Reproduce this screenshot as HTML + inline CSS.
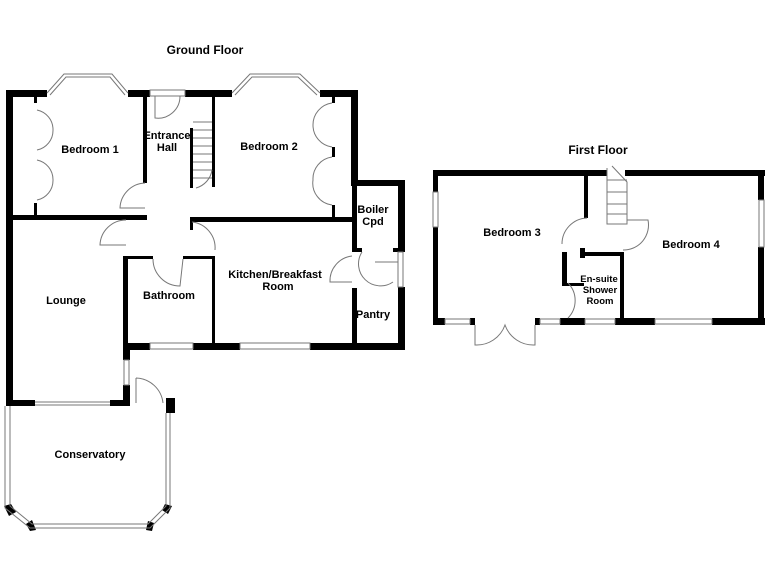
<!DOCTYPE html>
<html><head><style>body{margin:0;background:#fff}svg{display:block}text{font-family:"Liberation Sans",Arial,sans-serif;font-weight:bold;fill:#000}</style></head><body>
<svg width="768" height="576" viewBox="0 0 768 576" xmlns="http://www.w3.org/2000/svg">
<g fill="#000">
<rect x="6" y="90" width="41" height="7"/>
<rect x="128" y="90" width="22" height="7"/>
<rect x="185" y="90" width="47" height="7"/>
<rect x="320" y="90" width="38" height="7"/>
<rect x="6" y="90" width="7" height="316"/>
<rect x="351" y="90" width="7" height="96"/>
<rect x="351" y="180" width="54" height="6"/>
<rect x="398" y="180" width="7" height="72"/>
<rect x="398" y="287" width="7" height="63"/>
<rect x="123" y="343" width="27" height="7"/>
<rect x="193" y="343" width="47" height="7"/>
<rect x="310" y="343" width="95" height="7"/>
<rect x="123" y="343" width="7" height="17"/>
<rect x="123" y="385" width="7" height="21"/>
<rect x="6" y="400" width="29" height="6"/>
<rect x="110" y="400" width="20" height="6"/>
<rect x="166" y="398" width="9" height="15"/>
<polygon points="4,506 11,504 16,512 9,516"/>
<polygon points="26,524 32,520 36,530 30,531"/>
<polygon points="148,521 154,523 152,531 146,530"/>
<polygon points="165,504 172,506 168,514 162,510"/>
<rect x="143" y="97" width="4" height="86"/>
<rect x="6" y="215" width="141" height="5"/>
<rect x="190" y="128" width="3" height="60"/>
<rect x="212" y="97" width="3" height="90"/>
<rect x="190" y="217" width="163" height="5"/>
<rect x="190" y="217" width="3" height="13"/>
<rect x="123" y="256" width="30" height="3"/>
<rect x="183" y="256" width="32" height="3"/>
<rect x="123" y="256" width="5" height="94"/>
<rect x="212" y="256" width="3" height="90"/>
<rect x="352" y="183" width="5" height="67"/>
<rect x="352" y="288" width="5" height="58"/>
<rect x="352" y="248" width="10" height="4"/>
<rect x="393" y="248" width="12" height="4"/>
<rect x="34" y="97" width="3" height="6"/><rect x="34" y="203" width="3" height="15"/>
<rect x="332" y="97" width="3" height="6"/><rect x="332" y="147" width="3" height="10"/><rect x="332" y="205" width="3" height="12"/>
<rect x="433" y="170" width="174" height="6"/>
<rect x="625" y="170" width="140" height="6"/>
<rect x="433" y="170" width="5" height="22"/>
<rect x="433" y="227" width="5" height="98"/>
<rect x="758" y="170" width="6" height="30"/>
<rect x="758" y="247" width="6" height="78"/>
<rect x="433" y="318" width="12" height="7"/>
<rect x="470" y="318" width="5" height="7"/>
<rect x="535" y="318" width="5" height="7"/>
<rect x="560" y="318" width="25" height="7"/>
<rect x="615" y="318" width="40" height="7"/>
<rect x="712" y="318" width="53" height="7"/>
<rect x="584" y="176" width="4" height="42"/>
<rect x="620" y="252" width="4" height="70"/>
<rect x="580" y="252" width="44" height="4"/>
<rect x="580" y="248" width="5" height="10"/>
<rect x="562" y="252" width="5" height="34"/>
<rect x="562" y="283" width="22" height="3"/>
</g>
<g fill="none" stroke="#777" stroke-width="1">
<path d="M47 93 L64 74 L112 74 L128 93 M50 95 L66 77 L110 77 L125 95"/>
<path d="M232 93 L250 74 L300 74 L320 93 M235 95 L252 77 L298 77 L317 95"/>
<rect x="150" y="90" width="35" height="6"/>
<path d="M155 96 V118 A22 22 0 0 0 180 96"/>
<path d="M37 110 A20 20 0 0 1 53 130 A20 20 0 0 1 37 150 M37 160 A20 20 0 0 1 53 180 A20 20 0 0 1 37 200"/>
<path d="M332 103 A22 22 0 0 0 313 125 A22 22 0 0 0 332 147 M332 157 A22 22 0 0 0 313 180 A22 22 0 0 0 332 205"/>
<path d="M193 122 H212 M193 130 H212 M193 138 H212 M193 146 H212 M193 154 H212 M193 162 H212 M193 170 H212 M193 178 H212 M196 188 A22 22 0 0 0 212 170"/>
<path d="M145 183 A26 26 0 0 0 120 208 L145 208"/>
<path d="M126 220 A26 26 0 0 0 100 245 L126 245"/>
<path d="M153 259 A27 27 0 0 0 180 286 L183 259"/>
<path d="M192 222 A26 26 0 0 1 215 250"/>
<path d="M352 256 A25 25 0 0 0 330 282 L352 282"/>
<path d="M362 252 A22 22 0 0 0 393 282 M375 262 H398 V282"/>
<rect x="398" y="252" width="5" height="35"/>
<rect x="150" y="343" width="43" height="6"/>
<rect x="240" y="343" width="70" height="6"/>
<rect x="124" y="360" width="5" height="25"/>
<path d="M35 402 H110 M35 405 H110"/>
<path d="M136 378 A28 28 0 0 1 163 403 M136 378 V403"/>
<path d="M5 406 V508 L30 528 H150 L170 508 V413 M10 406 V506 L32 524 H148 L166 506 V413"/>
<rect x="433" y="192" width="5" height="35"/>
<rect x="759" y="200" width="5" height="47"/>
<rect x="445" y="319" width="25" height="5"/><rect x="540" y="319" width="20" height="5"/><rect x="585" y="319" width="30" height="5"/><rect x="655" y="319" width="57" height="5"/>
<path d="M475 325 V345 A30 30 0 0 0 505 325 A30 30 0 0 0 535 345 V325"/>
<path d="M607 168 V224 H627 V182 L612 166 M607 180 H627 M607 192 H627 M607 204 H627 M607 214 H627"/>
<path d="M587 218 A26 26 0 0 0 562 244 M627 220 H648 A25 25 0 0 1 623 250"/>
<path d="M568 318 A25 25 0 0 0 568 283"/>
</g>
<g font-size="11" text-anchor="middle">
<text x="205" y="54" font-size="12">Ground Floor</text>
<text x="598" y="154" font-size="12">First Floor</text>
<text x="90" y="153">Bedroom 1</text>
<text x="167" y="139">Entrance</text><text x="167" y="151">Hall</text>
<text x="269" y="150">Bedroom 2</text>
<text x="373" y="213">Boiler</text><text x="373" y="225">Cpd</text>
<text x="275" y="278">Kitchen/Breakfast</text><text x="278" y="290">Room</text>
<text x="169" y="299">Bathroom</text>
<text x="66" y="304">Lounge</text>
<text x="373" y="318">Pantry</text>
<text x="90" y="458">Conservatory</text>
<text x="512" y="236">Bedroom 3</text>
<text x="691" y="248">Bedroom 4</text>
<text x="599" y="282" font-size="9.5">En-suite</text><text x="600" y="293" font-size="9.5">Shower</text><text x="600" y="304" font-size="9.5">Room</text>
</g>
</svg>
</body></html>
